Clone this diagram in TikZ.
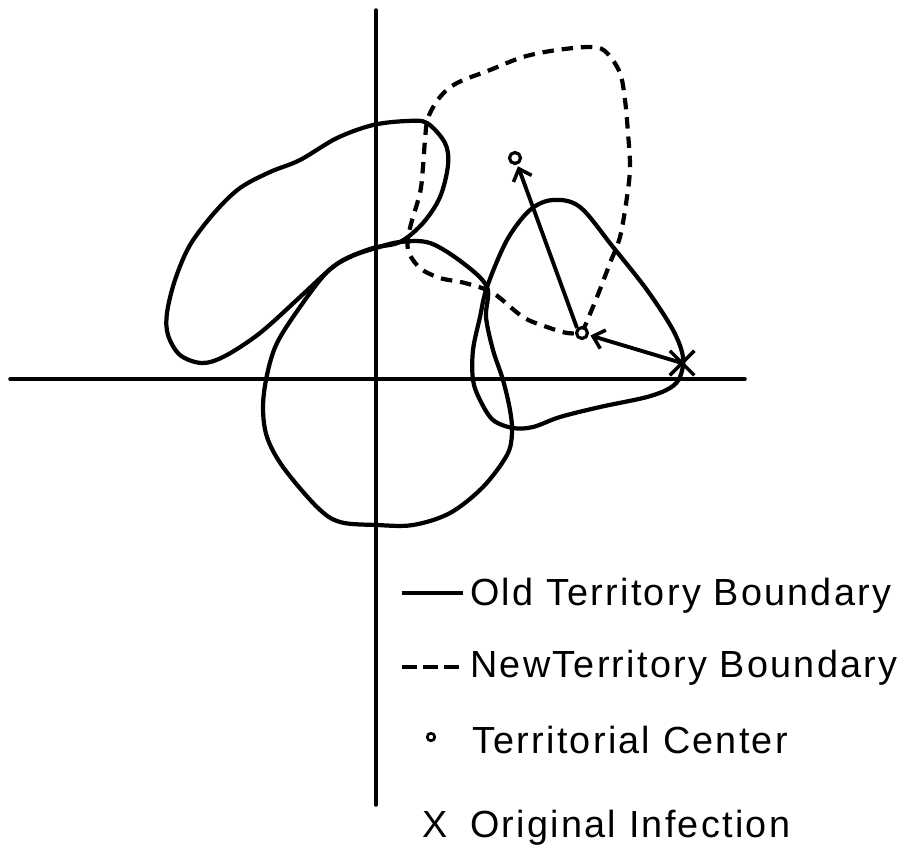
\documentclass[tikz,border=0pt]{standalone}
\usepackage{fontspec}
\newfontfamily\lgfont[LetterSpace=6]{Liberation Sans}
\usepackage{tikz}
\usetikzlibrary{
  arrows.meta,
  shapes.misc
}

\begin{document}
\begin{tikzpicture}[
  x=0.02cm, y=-0.02cm,
  axis/.style={line width=2pt, line cap=round},
  oldb/.style={line width=2.4pt, line join=round},
  newb/.style={line width=2.4pt, dash pattern=on 6.5pt off 4.5pt},
  ctr/.style={circle, draw, fill=white, line width=1.8pt, inner sep=0pt, minimum size=0.22cm},
  inf/.style={cross out, draw, line width=2pt, inner sep=0pt, minimum size=0.42cm},
  arr/.style={-{Straight Barb[length=6pt, width=11pt, line width=2pt]}, line width=2.2pt, shorten >=1pt},
  lbl/.style={anchor=base west, inner sep=0pt, font=\lgfont\fontsize{21.5pt}{24pt}\selectfont},
]
\useasboundingbox (0,0) rectangle (906,850);

% Ejes
\draw[axis] (376,10) -- (376,805);
\draw[axis] (10,379) -- (745,379);

% Territorios viejos
\draw[oldb] plot[smooth cycle, tension=0.55] coordinates {
  (373,125) (407,121) (427,123) (445,143) (448,165) (440,197) (423,223)
  (400,242) (373,248) (345,259) (327,272) (300,297) (260,333) (225,356)
  (202,363) (180,355) (168,335) (167,313) (175,280) (190,245) (215,212)
  (240,188) (270,172) (300,160) (337,138)};
\draw[oldb] plot[smooth cycle, tension=0.55] coordinates {
  (327,272) (350,257) (376,248) (400,242) (430,243) (463,263) (487,287)
  (486,317) (493,350) (503,380) (510,410) (512,433) (507,455) (483,487)
  (450,513) (413,525) (377,525) (340,522) (317,507) (283,467) (267,437)
  (263,407) (267,375) (277,343) (300,307)};
\draw[oldb] plot[smooth cycle, tension=0.55] coordinates {
  (553,200) (580,207) (613,247) (647,290) (673,330) (683,357) (680,377)
  (670,388) (647,397) (600,407) (560,417) (533,427) (513,428) (493,420)
  (480,400) (473,380) (473,350) (480,317) (487,287) (507,240) (530,210)};

% Territorio nuevo
\draw[newb] plot[smooth, tension=0.55] coordinates {
  (582,333) (597,297) (610,263) (620,237) (627,197) (630,167) (628,133)
  (625,100) (620,73) (607,53) (593,47) (557,50) (523,57) (490,70)
  (457,83) (440,97) (428,118) (425,140) (423,167) (420,193) (410,228)
  (408,250) (420,268) (440,278) (465,283) (493,293) (523,317) (547,327)
  (567,333) (582,333)};

% Centros e infeccion
\node[ctr] (ctrold) at (582,333) {};
\node[ctr] (ctrnew) at (515,158) {};
\node[inf] (infx) at (682,363) {};

% Flechas
\draw[arr] (infx.center) -- (ctrold);
\draw[arr] (ctrold.north west) -- (ctrnew);

% Leyenda
\coordinate (l1a) at (402,593);
\coordinate (l1b) at (463,593);
\coordinate (l2a) at (402,667);
\coordinate (l2b) at (463,667);
\draw[oldb] (l1a) -- (l1b);
\draw[line width=2.4pt, dash pattern=on 8.5pt off 3.5pt] (l2a) -- (l2b);
\node[lbl] (lgold) at (470,605) {Old Territory Boundary};
\node[lbl] (lgnew) at (470,677) {NewTerritory Boundary};
\node[ctr, minimum size=0.15cm, line width=1.5pt] (lgctr) at (431,737) {};
\node[lbl] (lgcen) at (472,753) {Territorial Center};
\node[lbl] (lgx) at (422,837) {X};
\node[lbl] (lginf) at (470,837) {Original Infection};

\end{tikzpicture}
\end{document}
